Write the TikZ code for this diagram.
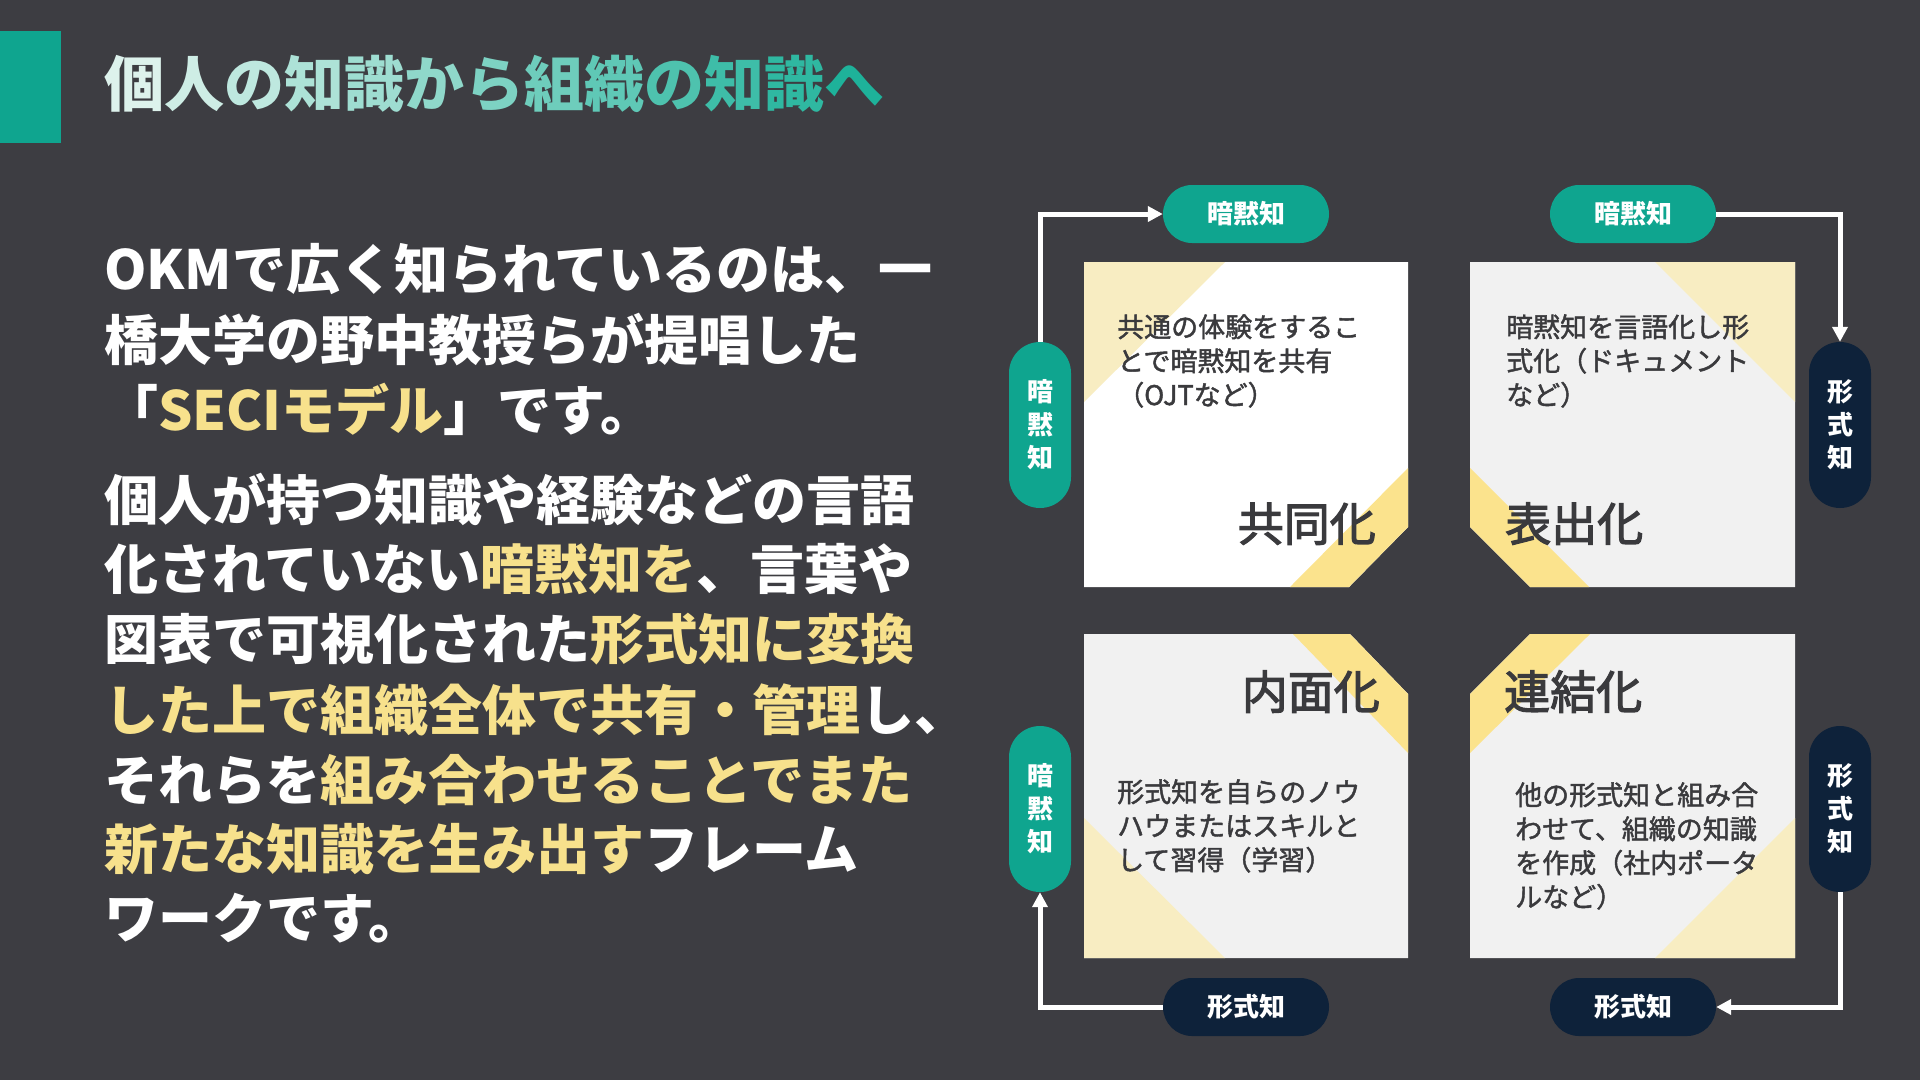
\documentclass[tikz,border=0pt]{standalone}
\usepackage{fontspec}
\setmainfont{Noto Sans CJK JP}
\newfontfamily\jpmed{Noto Sans CJK JP}[FakeBold=1.6]
\newfontfamily\jpsemi{Noto Sans CJK JP}[FakeBold=2.6]
\usetikzlibrary{arrows.meta}

\definecolor{bgc}{HTML}{3D3D42}
\definecolor{tealc}{HTML}{0FA58F}
\definecolor{navyc}{HTML}{0E223A}
\definecolor{inkc}{HTML}{3A3A3D}
\definecolor{cardc}{HTML}{F1F1F1}
\definecolor{yellowc}{HTML}{FBE38D}
\definecolor{palec}{HTML}{F8EDC2}
\definecolor{hlc}{HTML}{F7E18C}
\definecolor{titlestart}{HTML}{DDF2EC}
\definecolor{titleend}{HTML}{1EB29A}

\newcommand{\hl}[1]{\textcolor{hlc}{#1}}

\begin{document}
\begin{tikzpicture}[
  x=1pt, y=-1pt,
  bodyline/.style={anchor=base west, inner sep=0pt, text=white,
    font=\bfseries\fontsize{54}{70}\selectfont},
  titletext/.style={anchor=base west, inner sep=0pt,
    font=\bfseries\fontsize{60}{72}\selectfont},
  pill/.style={rectangle, rounded corners=29pt,
    minimum width=166pt, minimum height=58pt, inner sep=0pt,
    text=white, font=\bfseries\fontsize{26}{33}\selectfont},
  vpill/.style={pill, rounded corners=31pt,
    minimum width=62pt, minimum height=166pt, align=center},
  tacit/.style={fill=tealc},
  explicit/.style={fill=navyc},
  flow/.style={draw=white, line width=5pt, -{Triangle[length=15pt,width=15pt]}},
  desc/.style={anchor=base west, inner sep=0pt, text=inkc,
    font=\jpmed\fontsize{27}{34}\selectfont},
  phase/.style={inner sep=0pt, text=inkc, font=\jpsemi\fontsize{46}{50}\selectfont},
  band/.style={fill=yellowc},
  pale/.style={fill=palec},
]

\useasboundingbox (0,0) rectangle (1920,1080);
\fill[bgc] (0,0) rectangle (1920,1080);
\fill[tealc] (0,31) rectangle (61,143);

\node[titletext] (title) at (104,106) {\foreach \c [count=\i] in {個,人,の,知,識,か,ら,組,織,の,知,識,へ}{\pgfmathtruncatemacro\p{(\i-1)*100/12}\textcolor{titleend!\p!titlestart}{\c}}};

% left text
\node[bodyline] (l1) at (104,289) {OKMで広く知られているのは、一};
\node[bodyline] (l2) at (104,360) {橋大学の野中教授らが提唱した};
\node[bodyline] (l3) at (104,430) {「\hl{SECIモデル}」です。};
\node[bodyline] (l4) at (104,520) {個人が持つ知識や経験などの言語};
\node[bodyline] (l5) at (104,589) {化されていない\hl{暗黙知を}、言葉や};
\node[bodyline] (l6) at (104,659) {図表で可視化された\hl{形式知に変換}};
\node[bodyline] (l7) at (104,730) {\hl{した上で組織全体で共有・管理}し、};
\node[bodyline] (l8) at (104,800) {それらを\hl{組み合わせることでまた}};
\node[bodyline] (l9) at (104,869) {\hl{新たな知識を生み出す}フレーム};
\node[bodyline] (l10) at (104,938) {ワークです。};

% four cards
\fill[white] (1084,262) -- (1408,262) -- (1408,527) -- (1349,587) -- (1084,587) -- cycle;
\fill[cardc] (1470,262) -- (1795,262) -- (1795,587) -- (1530,587) -- (1470,527) -- cycle;
\fill[cardc] (1084,634) -- (1350,634) -- (1408,694) -- (1408,958) -- (1084,958) -- cycle;
\fill[cardc] (1530,634) -- (1795,634) -- (1795,958) -- (1470,958) -- (1470,694) -- cycle;

\fill[pale] (1084,262) -- (1225,262) -- (1084,402) -- cycle;
\fill[pale] (1655,262) -- (1795,262) -- (1795,402) -- cycle;
\fill[pale] (1084,818) -- (1084,958) -- (1225,958) -- cycle;
\fill[pale] (1795,818) -- (1795,958) -- (1655,958) -- cycle;

\fill[band] (1408,468) -- (1408,527) -- (1349,587) -- (1290,587) -- cycle;
\fill[band] (1470,468) -- (1470,527) -- (1530,587) -- (1589,587) -- cycle;
\fill[band] (1293,634) -- (1350,634) -- (1408,694) -- (1408,753) -- cycle;
\fill[band] (1530,634) -- (1590,634) -- (1470,753) -- (1470,694) -- cycle;

\foreach \t [count=\i] in {共通の体験をするこ, とで暗黙知を共有, （OJTなど）}
  \node[desc] (soc\i) at (1117,303+34*\i) {\t};
\foreach \t [count=\i] in {暗黙知を言語化し形, 式化（ドキュメント, など）}
  \node[desc] (ext\i) at (1506,303+34*\i) {\t};
\foreach \t [count=\i] in {形式知を自らのノウ, ハウまたはスキルと, して習得（学習）}
  \node[desc] (int\i) at (1117,768+34*\i) {\t};
\foreach \t [count=\i] in {他の形式知と組み合, わせて、組織の知識, を作成（社内ポータ, ルなど）}
  \node[desc] (com\i) at (1515,771+34*\i) {\t};

\node[phase, anchor=base east] (soc) at (1376,541) {共同化};
\node[phase, anchor=base west] (ext) at (1505,541) {表出化};
\node[phase, anchor=base east] (int) at (1380,709) {内面化};
\node[phase, anchor=base west] (com) at (1504,709) {連結化};

% pills
\node[pill, tacit] (ptl) at (1246,214) {暗黙知};
\node[pill, tacit] (ptr) at (1633,214) {暗黙知};
\node[pill, explicit] (pbl) at (1246,1007) {形式知};
\node[pill, explicit] (pbr) at (1633,1007) {形式知};
\node[vpill, tacit] (vtl) at (1040,425) {暗\\黙\\知};
\node[vpill, explicit] (vtr) at (1840,425) {形\\式\\知};
\node[vpill, tacit] (vbl) at (1040,809) {暗\\黙\\知};
\node[vpill, explicit] (vbr) at (1840,809) {形\\式\\知};

\draw[flow] (vtl.north) |- (ptl.west);
\draw[flow] (ptr.east) -| (vtr.north);
\draw[flow] (vbr.south) |- (pbr.east);
\draw[flow] (pbl.west) -| (vbl.south);

\end{tikzpicture}
\end{document}
